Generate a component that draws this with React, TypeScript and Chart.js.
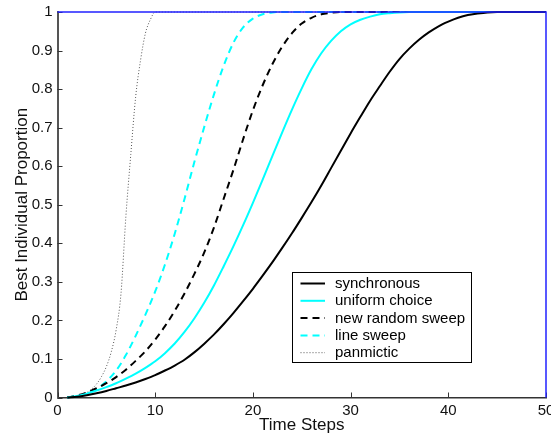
import React, { useEffect, useRef } from "react";
import { Chart, registerables } from "chart.js";

Chart.register(...registerables);

const seriesNames = ["synchronous", "uniform choice", "new random sweep", "line sweep", "panmictic"];

const syncT = [1,2,3,4,5,6,7,8,9,10,11,12,13,14,15,16,17,18,19,20,21,22,23,24,25,26,27,28,29,30,31,32,33,34,35,36,37,38,39,40,41,42,43,44,45,50];
const syncV = [0,0.002,0.006,0.011,0.017,0.024,0.031,0.039,0.048,0.058,0.07,0.083,0.098,0.117,0.139,0.163,0.19,0.219,0.25,0.282,0.316,0.351,0.388,0.426,0.466,0.507,0.55,0.595,0.64,0.685,0.728,0.77,0.808,0.845,0.878,0.905,0.928,0.947,0.963,0.975,0.985,0.992,0.996,0.999,1,1];

const uniT = [1,2,3,4,5,6,7,8,9,10,11,12,13,14,15,16,17,18,19,20,21,22,23,24,25,26,27,28,29,30,31,32,33,34,35,36,50];
const uniV = [0,0.004,0.01,0.018,0.027,0.037,0.049,0.062,0.077,0.094,0.115,0.14,0.17,0.205,0.245,0.29,0.34,0.392,0.447,0.505,0.565,0.627,0.688,0.747,0.802,0.852,0.893,0.925,0.95,0.968,0.98,0.988,0.994,0.997,0.999,1,1];

const nrsT = [1,2,3,4,5,6,7,8,9,10,11,12,13,14,15,16,17,18,19,20,21,22,23,24,25,26,27,28,29,50];
const nrsV = [0,0.005,0.013,0.024,0.037,0.053,0.072,0.095,0.12,0.15,0.185,0.225,0.27,0.32,0.375,0.44,0.515,0.59,0.67,0.745,0.81,0.865,0.91,0.945,0.97,0.985,0.994,0.998,1,1];

const lineT = [1,2,3,4,5,6,7,8,9,10,11,12,13,14,15,16,17,18,19,20,21,22,23,50];
const lineV = [0,0.004,0.01,0.022,0.042,0.07,0.11,0.16,0.215,0.275,0.345,0.425,0.515,0.61,0.7,0.785,0.86,0.92,0.96,0.983,0.994,0.999,1,1];

const panT = [1,2,3,3.5,4,4.5,5,5.5,6,6.5,7,7.5,8,8.5,9,9.5,10,50];
const panV = [0,0.004,0.013,0.022,0.035,0.054,0.08,0.118,0.175,0.27,0.47,0.63,0.78,0.875,0.945,0.98,1,1];

const xTicks = [0, 10, 20, 30, 40, 50];
const yTicks = [0, 0.1, 0.2, 0.3, 0.4, 0.5, 0.6, 0.7, 0.8, 0.9, 1];

const FONT = "'Liberation Sans', Arial, Helvetica, sans-serif";

const styles = [
  { color: "#000000", dash: [] as number[], width: 2 },
  { color: "#00ffff", dash: [] as number[], width: 2 },
  { color: "#000000", dash: [7, 5], width: 2 },
  { color: "#00ffff", dash: [7, 5], width: 2 },
  { color: "#555555", dash: [1, 2], width: 1 },
];

const pairs = (t: number[], v: number[]) => t.map((x, i) => ({ x, y: v[i] }));

const overlay = {
  id: "overlay",
  afterDatasetsDraw(chart: any) {
    const { ctx, chartArea, scales } = chart;
    const { left, right, top, bottom } = chartArea;
    const xs = scales.x;
    const ys = scales.y;
    ctx.save();
    ctx.setLineDash([]);
    ctx.strokeStyle = "#333";
    ctx.lineWidth = 1;
    for (const v of yTicks) {
      const py = Math.round(ys.getPixelForValue(v)) + 0.5;
      ctx.beginPath();
      ctx.moveTo(left, py);
      ctx.lineTo(left + 5, py);
      ctx.stroke();
    }
    for (const v of xTicks) {
      const px = Math.round(xs.getPixelForValue(v)) + 0.5;
      ctx.beginPath();
      ctx.moveTo(px, bottom);
      ctx.lineTo(px, bottom - 5);
      ctx.stroke();
    }
    // blue box top/right
    ctx.strokeStyle = "#2222ff";
    ctx.lineWidth = 1.5;
    ctx.beginPath();
    ctx.moveTo(left, top);
    ctx.lineTo(right, top);
    ctx.lineTo(right, bottom);
    ctx.stroke();

    // legend
    const bx = right - 254;
    const by = bottom - 125.5;
    const bw = 179;
    const bh = 90;
    ctx.fillStyle = "#ffffff";
    ctx.fillRect(bx, by, bw, bh);
    ctx.strokeStyle = "#000";
    ctx.lineWidth = 1;
    ctx.strokeRect(Math.round(bx) + 0.5, Math.round(by) + 0.5, bw, bh);
    ctx.font = `15px ${FONT}`;
    ctx.textBaseline = "middle";
    ctx.textAlign = "left";
    seriesNames.forEach((name, i) => {
      const cy = by + 11.5 + i * 17.3;
      const s = styles[i];
      ctx.strokeStyle = s.color;
      ctx.lineWidth = s.width;
      ctx.setLineDash(s.dash);
      ctx.beginPath();
      ctx.moveTo(bx + 8.5, cy);
      ctx.lineTo(bx + 33, cy);
      ctx.stroke();
      ctx.setLineDash([]);
      ctx.fillStyle = "#000";
      ctx.fillText(name, bx + 43, cy + 0.5);
    });
    ctx.restore();
  },
};

export default function App() {
  const ref = useRef<HTMLCanvasElement | null>(null);
  useEffect(() => {
    document.body.style.margin = "0";
    const canvas = ref.current;
    if (!canvas) return;
    const data = [pairs(syncT, syncV), pairs(uniT, uniV), pairs(nrsT, nrsV), pairs(lineT, lineV), pairs(panT, panV)];
    const chart = new Chart(canvas, {
      type: "line",
      data: {
        datasets: seriesNames.map((name, i) => ({
          label: name,
          data: data[i],
          borderColor: styles[i].color,
          borderWidth: styles[i].width,
          borderDash: styles[i].dash,
          pointRadius: 0,
          fill: false,
          cubicInterpolationMode: "monotone" as const,
          clip: false as any,
        })),
      },
      options: {
        responsive: false,
        devicePixelRatio: 1,
        animation: false,
        layout: { padding: { top: 12, right: 5, left: 0, bottom: 0 } },
        plugins: { legend: { display: false }, tooltip: { enabled: false } },
        scales: {
          x: {
            type: "linear",
            min: 0,
            max: 50,
            afterFit: (s: any) => { s.height = 39.5; s.paddingLeft = 0; s.paddingRight = 0; },
            afterBuildTicks: (s: any) => { s.ticks = xTicks.map((v) => ({ value: v })); },
            grid: { display: false, drawTicks: false },
            border: { display: true, color: "#333", width: 1.5 },
            ticks: { color: "#111", font: { family: FONT, size: 15 }, padding: 4, maxRotation: 0 },
            title: { display: true, text: "Time Steps", color: "#111", font: { family: FONT, size: 17 }, padding: { top: 0, bottom: 1 } },
          },
          y: {
            type: "linear",
            min: 0,
            max: 1,
            afterFit: (s: any) => { s.width = 57.5; s.paddingTop = 0; s.paddingBottom = 0; },
            afterBuildTicks: (s: any) => { s.ticks = yTicks.map((v) => ({ value: v })); },
            grid: { display: false, drawTicks: false },
            border: { display: true, color: "#555", width: 2 },
            ticks: {
              color: "#111",
              font: { family: FONT, size: 15 },
              padding: 5,
              callback: (v: any) => String(Number(Number(v).toFixed(1))),
            },
            title: { display: true, text: "Best Individual Proportion", color: "#111", font: { family: FONT, size: 17 }, padding: { top: 12, bottom: 0 } },
          },
        },
      },
      plugins: [overlay],
    });
    return () => chart.destroy();
  }, []);
  return (
    <div style={{ width: 551, height: 437 }}>
      <canvas ref={ref} width={551} height={437} style={{ display: "block" }} />
    </div>
  );
}
